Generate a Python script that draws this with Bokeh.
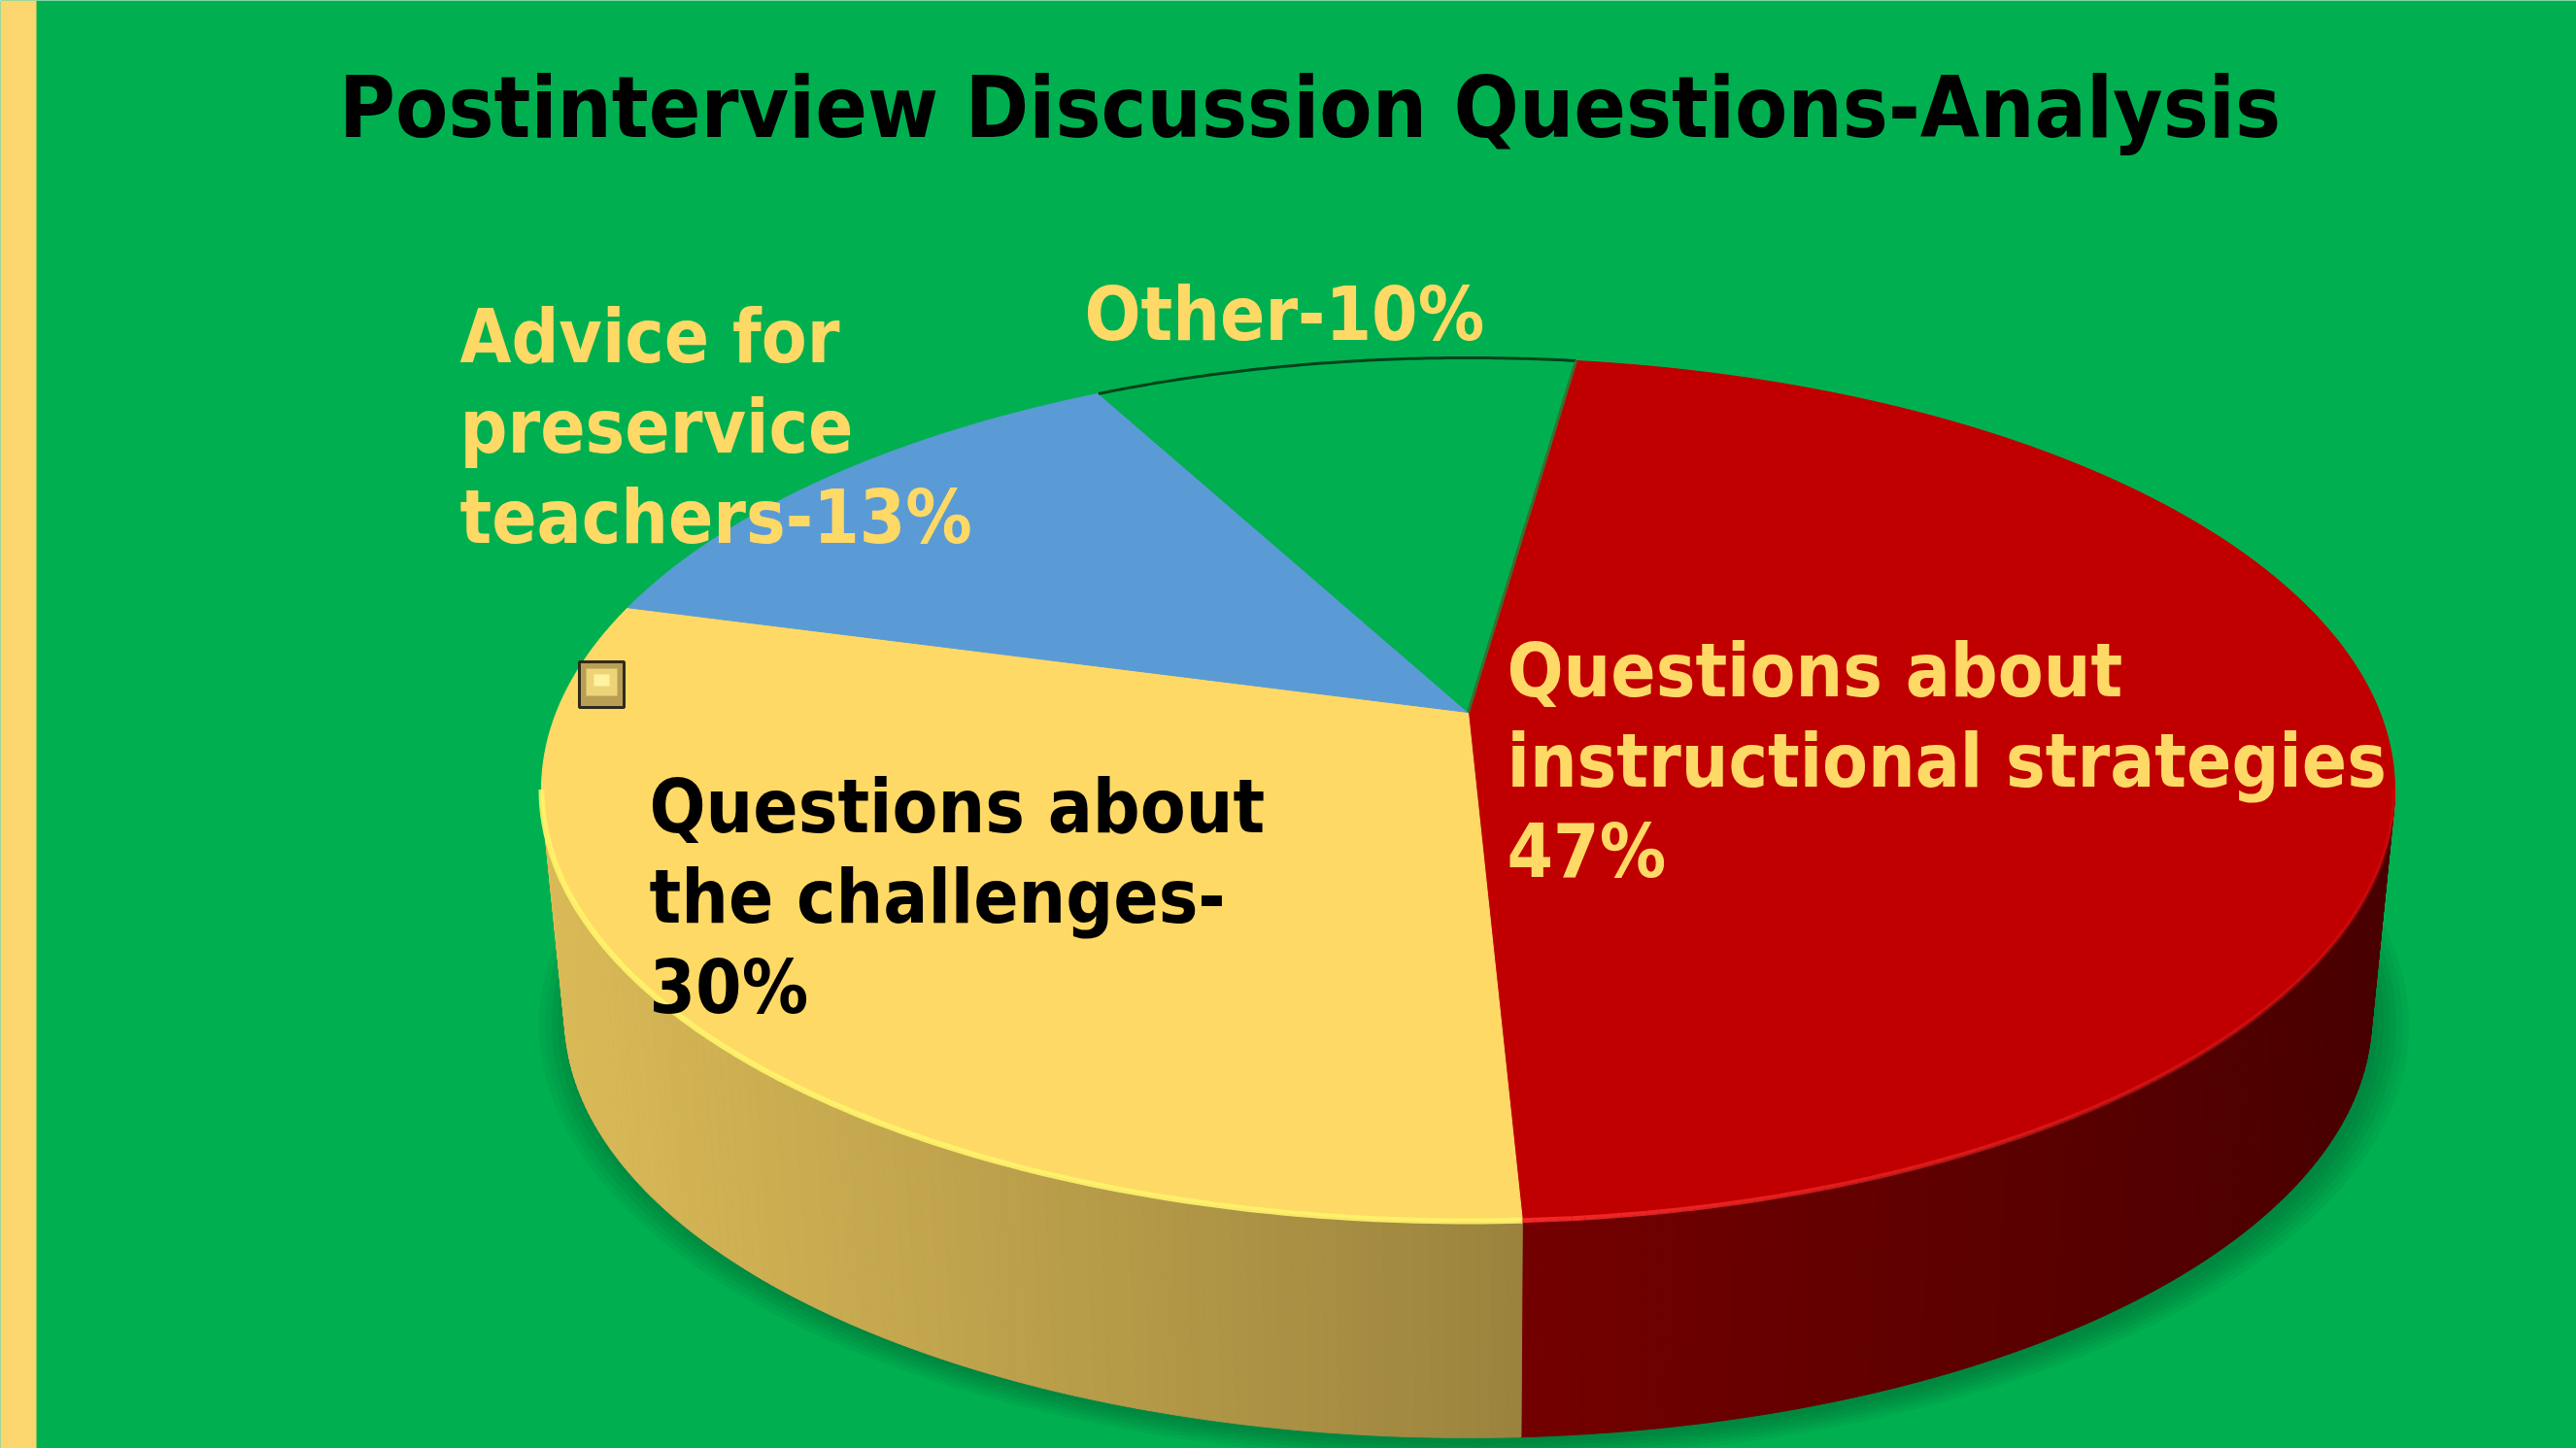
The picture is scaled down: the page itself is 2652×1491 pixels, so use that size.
import numpy as np
from bokeh.plotting import figure
from bokeh.models import Range1d, BoxAnnotation, ColumnDataSource
from bokeh.core.properties import value
from bokeh.embed import file_html
from bokeh.resources import INLINE

# ---------------- data ----------------
title = "Postinterview Discussion Questions-Analysis"
categories = [
    "Questions about instructional strategies",
    "Questions about the challenges",
    "Advice for preservice teachers",
    "Other",
]
shares = [47, 30, 13, 10]
top_colors = ["#C00000", "#FFD966", "#5B9BD5", "#00B050"]
top_rgb = [(192, 0, 0), (255, 217, 102), (91, 155, 213), (0, 176, 80)]
label_lines = [
    ["Questions about", "instructional strategies", "47%"],
    ["Questions about", "the challenges-", "30%"],
    ["Advice for", "preservice", "teachers-13%"],
    ["Other-10%"],
]
label_colors = ["#FFD966", "#000000", "#FFD966", "#FFD966"]

# ---------------- layout / style ----------------
W, H = 2652, 1491
BG = "#00B050"
CX, CY = 1511.0, 733.0          # projected pie centre (apex of slices)
RX, RY = 938.6, 430.3           # perspective radii
K = 0.1788                      # perspective strength
DEPTH = 236.0                   # pie thickness on screen
SB = 0.975                      # bottom-face shrink (perspective)
START = 8.0                     # first slice angle (clockwise from 12 o'clock)
FONT = "DejaVu Sans Condensed"
LABEL_SIZE = "76px"
TITLE_SIZE = "88px"
LINE_H = 93
# label anchors: (left x, first baseline y) in screen pixels
label_anchor = [(1551, 690), (668, 830), (473, 346), (1116, 323)]
title_anchor = (1348, 110)

def proj(phi):
    t = np.radians(phi)
    u, v = np.sin(t), np.cos(t)
    w = 1 + K * v
    return CX + RX * u / w, CY - RY * v / w

def proj_bottom(phi):
    x, y = proj(phi)
    return CX + SB * (x - CX), CY + SB * (y - CY) + DEPTH

def shade(rgb, x):
    t = min(max((x - 557) / 1908.0, 0.0), 1.0)
    f = 0.86 - 0.48 * t
    r, g, b = (int(max(0, min(255, c * f))) for c in rgb)
    return "#%02x%02x%02x" % (r, g, b)

total = float(sum(shares))
bounds = [START]
for s in shares:
    bounds.append(bounds[-1] + 360.0 * s / total)

p = figure(width=W, height=H, x_range=Range1d(0, W), y_range=Range1d(H, 0),
           x_axis_type=None, y_axis_type=None, output_backend="svg",
           toolbar_location=None, min_border=0)
p.grid.visible = False
p.outline_line_color = None
p.background_fill_color = BG
p.border_fill_color = BG

# left accent strip
p.add_layout(BoxAnnotation(left=0, right=37, fill_color="#FBD66E", fill_alpha=1.0, line_color=None))

# soft shadow under the pie
full = np.linspace(0, 360, 361)
for g in np.linspace(1.0, 1.035, 6):
    bx, by = proj_bottom(full)
    sx = CX + g * (bx - CX) + 6
    sy = CY + g * (by - CY - DEPTH) + DEPTH + 6
    p.patch(list(sx), list(sy), fill_color="#00381a", fill_alpha=0.06, line_color=None)

# side walls (front half only)
PHI_L = np.degrees(np.arccos(-K))
PHI_R = 360.0 - PHI_L
wx, wy, wc = [], [], []
for i in range(len(shares)):
    a0, a1 = max(bounds[i], PHI_L), min(bounds[i + 1], PHI_R)
    if a1 <= a0:
        continue
    n = max(2, int((a1 - a0) / 0.8))
    phis = np.linspace(a0, a1, n + 1)
    for j in range(n):
        x0, y0 = proj(phis[j]); x1, y1 = proj(phis[j + 1])
        bx1, by1 = proj_bottom(phis[j + 1]); bx0, by0 = proj_bottom(phis[j])
        wx.append([x0, x1, bx1, bx0]); wy.append([y0, y1, by1, by0])
        wc.append(shade(top_rgb[i], (x0 + x1) / 2))
p.patches(wx, wy, fill_color=wc, line_color=wc, line_width=1)

# top face slices
for i in range(len(shares)):
    phis = np.linspace(bounds[i], bounds[i + 1], max(3, int((bounds[i + 1] - bounds[i]) * 2)))
    xs, ys = proj(phis)
    p.patch([CX] + list(xs) + [CX], [CY] + list(ys) + [CY],
            fill_color=top_colors[i], line_color=top_colors[i], line_width=1)

# outline of the "Other" slice (same colour as background)
phis = np.linspace(bounds[3], bounds[4], 80)
ox, oy = proj(phis)
p.line(list(ox), list(oy), line_color="#00431c", line_width=3)
tx, ty = proj(bounds[0])
p.line([CX, tx], [CY, ty], line_color="#3c6e32", line_width=3)

# front-edge highlights
phis = np.linspace(max(bounds[1], PHI_L), min(bounds[2], PHI_R), 120)
hx, hy = proj(phis)
p.line(list(hx), list(hy), line_color="#FFF36A", line_width=6, line_alpha=0.9)
phis = np.linspace(bounds[1], PHI_L, 120)[::-1]
hx, hy = proj(phis)
segx = [[hx[j], hx[j + 1]] for j in range(len(hx) - 1)]
segy = [[hy[j], hy[j + 1]] for j in range(len(hy) - 1)]
alph = [max(0.0, 0.85 * (1 - abs(hx[j] - hx[-1]) / 1100.0)) for j in range(len(hx) - 1)]
p.multi_line(segx, segy, line_color="#FF3030", line_width=5, line_alpha=alph)

# small bevelled marker
p.quad(left=[596], right=[642], top=[681], bottom=[728], fill_color="#B89F55",
       line_color="#2f2a1a", line_width=3)
p.quad(left=[603], right=[635], top=[688], bottom=[716], fill_color="#EED478", line_color=None)
p.quad(left=[611], right=[627], top=[694], bottom=[706], fill_color="#FFF3A0", line_color=None)

# data labels
for i, lines in enumerate(label_lines):
    lx, ly = label_anchor[i]
    src = ColumnDataSource(dict(x=[lx] * len(lines),
                                y=[ly + k * LINE_H for k in range(len(lines))], t=lines))
    p.text("x", "y", text="t", source=src, text_color=label_colors[i],
           text_font=value(FONT), text_font_style="bold", text_font_size=LABEL_SIZE,
           text_align="left", text_baseline="alphabetic")

# title
p.text(x=[title_anchor[0]], y=[title_anchor[1]], text=[title], text_color="#000000",
       text_font=value(FONT), text_font_style="bold", text_font_size=TITLE_SIZE,
       text_align="center", text_baseline="alphabetic")

open("out.html", "w").write(file_html(p, INLINE))
